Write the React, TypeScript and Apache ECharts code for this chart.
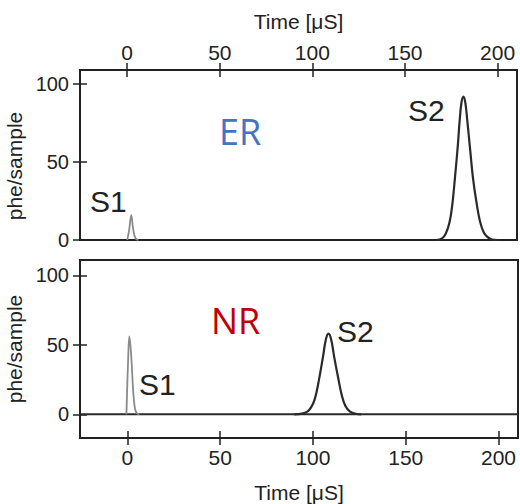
import React, { useEffect, useRef } from "react";
import * as echarts from "echarts";

const xTicks = [0, 50, 100, 150, 200];
const yTicks = [0, 50, 100];

// ER panel
const erS1: number[][] = [[0, 0], [1, 6], [2.2, 16], [3.2, 7], [4.5, 1], [6, 0]];
const erS2: number[][] = [
  [167, 0], [170, 1], [172, 4], [174, 11], [175.5, 22], [177, 40], [178.5, 60], [179.5, 76], [180.5, 88],
  [181.6, 92], [182.6, 88], [183.7, 76], [185.2, 58], [186.7, 40], [188.5, 25], [190.5, 12], [192.5, 5],
  [194.5, 2], [197, 0.3], [200, 0],
];
// NR panel
const nrS1: number[][] = [[-0.5, 0], [0.4, 38], [1.1, 56], [2.1, 42], [3.1, 18], [4, 5], [5, 1], [6.5, 0]];
const nrS2: number[][] = [
  [90, 0], [94, 0.5], [97, 2], [99, 5], [101, 11], [103, 23], [105.5, 42], [107, 54], [108.4, 58],
  [109.8, 54], [111.5, 41], [113.5, 27], [115.5, 14], [117.5, 6], [120, 2], [123, 0.4], [126, 0],
];
const nrBaseline: number[][] = [[-25.5, 0], [210.5, 0]];

const AX = "#222";
const FONT = "Liberation Sans, Arial, sans-serif";
const XMIN = -25.5;
const XMAX = 210.5;

export default function App() {
  const ref = useRef<HTMLDivElement>(null);
  useEffect(() => {
    if (!ref.current) return;
    const chart = echarts.init(ref.current, undefined, { renderer: "svg" });
    const xBase = (grid: number, pos: "top" | "bottom", showName: boolean) => ({
      gridIndex: grid,
      type: "value" as const,
      min: XMIN,
      max: XMAX,
      position: pos,
      axisLine: { show: true, onZero: false, lineStyle: { color: AX, width: 2 } },
      axisTick: { show: true, customValues: xTicks, length: 7, lineStyle: { color: AX, width: 1.5 } },
      axisLabel: { customValues: xTicks, fontSize: 21, color: AX, fontFamily: FONT, margin: pos === "top" ? 7 : 9 },
      splitLine: { show: false },
      name: showName ? "Time [μS]" : "",
      nameLocation: "middle" as const,
      nameGap: pos === "top" ? 38 : 44,
      nameTextStyle: { fontSize: 21, color: AX, fontFamily: FONT },
    });
    const xInner = (grid: number, pos: "top" | "bottom") => ({
      gridIndex: grid,
      type: "value" as const,
      min: XMIN,
      max: XMAX,
      position: pos,
      axisLine: { show: false, onZero: false },
      axisTick: { show: true, inside: true, customValues: xTicks, length: 7, lineStyle: { color: AX, width: 1.5 } },
      axisLabel: { show: false },
      splitLine: { show: false },
    });
    const yBase = (grid: number, min: number, max: number, pad: number[]) => ({
      gridIndex: grid,
      type: "value" as const,
      min,
      max,
      position: "left" as const,
      axisLine: { show: true, onZero: false, lineStyle: { color: AX, width: 2 } },
      axisTick: { show: true, customValues: yTicks, length: 7, lineStyle: { color: AX, width: 1.5 } },
      axisLabel: { customValues: yTicks, fontSize: 20, color: AX, fontFamily: FONT, margin: 11 },
      splitLine: { show: false },
      name: "phe/sample",
      nameLocation: "middle" as const,
      nameGap: 48,
      nameTextStyle: { fontSize: 21, color: AX, fontFamily: FONT, padding: pad },
    });
    const yInner = (grid: number, min: number, max: number) => ({
      gridIndex: grid,
      type: "value" as const,
      min,
      max,
      position: "left" as const,
      axisLine: { show: false, onZero: false },
      axisTick: { show: true, inside: true, customValues: yTicks, length: 7, lineStyle: { color: AX, width: 1.5 } },
      axisLabel: { show: false },
      splitLine: { show: false },
    });
    const line = (data: number[][], xi: number, yi: number, color: string, w = 2) => ({
      type: "line" as const,
      data,
      xAxisIndex: xi,
      yAxisIndex: yi,
      smooth: 0.4,
      symbol: "none",
      lineStyle: { color, width: w },
      silent: true,
    });
    const txt = (text: string, x: number, y: number, size: number, color: string, family = FONT) => ({
      type: "text" as const,
      x,
      y,
      style: { text, fill: color, font: `${size}px ${family}`, align: "left", verticalAlign: "middle" },
    });
    chart.setOption({
      animation: false,
      backgroundColor: "#fff",
      grid: [
        { left: 80, top: 70, width: 437, height: 170, show: true, borderColor: AX, borderWidth: 2, backgroundColor: "transparent", containLabel: false, outerBoundsMode: "none" },
        { left: 80, top: 260, width: 438, height: 178, show: true, borderColor: AX, borderWidth: 2, backgroundColor: "transparent", containLabel: false, outerBoundsMode: "none" },
      ],
      xAxis: [xBase(0, "top", true), xInner(0, "top"), xBase(1, "bottom", true), xInner(1, "bottom")],
      yAxis: [yBase(0, 0, 109, [0, 22, 0, 0]), yInner(0, 0, 109), yBase(1, -17, 111, [0, 0, 0, 0]), yInner(1, -17, 111)],
      series: [
        line(erS1, 0, 0, "#8a8a8a", 1.8),
        line(erS2, 0, 0, "#2a2a2a", 2.2),
        line(nrBaseline, 2, 2, "#2a2a2a", 2),
        line(nrS1, 2, 2, "#8a8a8a", 1.8),
        line(nrS2, 2, 2, "#2a2a2a", 2.2),
      ],
      graphic: [
        txt("S1", 90, 201, 30, "#222"),
        txt("S2", 408, 110, 30, "#222"),
        txt("S1", 139, 384, 30, "#222"),
        txt("S2", 337, 331, 30, "#222"),
        txt("ER", 219, 131, 36, "#4472C4", "Open Sans, sans-serif"),
        txt("NR", 211, 320, 36, "#C00000", "Open Sans, sans-serif"),
      ],
    });
    return () => chart.dispose();
  }, []);
  return <div ref={ref} style={{ position: "fixed", left: 0, top: 0, width: 520, height: 504 }} />;
}
